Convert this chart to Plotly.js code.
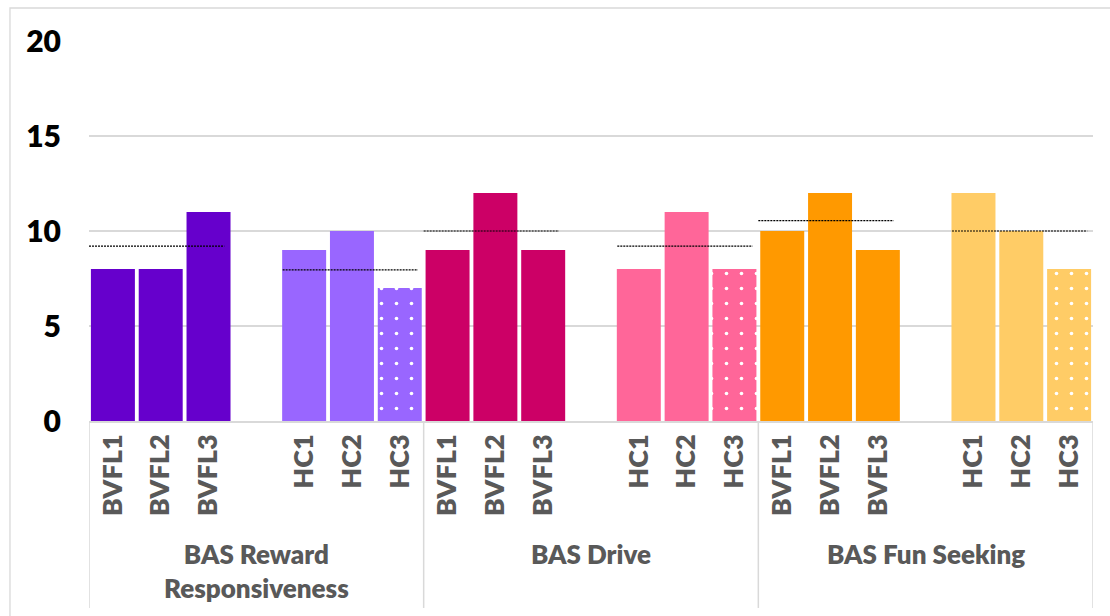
<!DOCTYPE html>
<html>
<head>
<meta charset="utf-8">
<script src="https://cdn.plot.ly/plotly-3.0.1.min.js"></script>
<style>
  html, body { margin: 0; padding: 0; background: #ffffff; }
  #chart { width: 1110px; height: 616px; }
</style>
</head>
<body>
<div id="chart"></div>
<script>
// BAS subscale scores per participant (BVFL patients vs healthy controls)
const groups = ['BAS Reward<br>Responsiveness', 'BAS Drive', 'BAS Fun Seeking'];
const subjects = ['BVFL1', 'BVFL2', 'BVFL3', '', 'HC1', 'HC2', 'HC3'];

const rewardScores = [8, 8, 11, null, 9, 10, 7];
const driveScores  = [9, 12, 9, null, 8, 11, 8];
const funScores    = [10, 12, 9, null, 12, 10, 8];

// Group means shown as dotted reference lines
const bvflMeans = [9.2, 10.0, 10.55];
const hcMeans   = [7.95, 9.2, 10.0];

const bvflColors = ['#6600CC', '#CC0066', '#FF9900'];
const hcColors   = ['#9966FF', '#FF6699', '#FFCC66'];

const scoreSets = [rewardScores, driveScores, funScores];
const slotsPerGroup = subjects.length;
const nSlots = groups.length * slotsPerGroup;

// Tick positions on the flattened numeric category axis
const tickVals = [], tickText = [];
for (let g = 0; g < groups.length; g++) {
  subjects.forEach((s, i) => { tickVals.push(g * slotsPerGroup + i); tickText.push(s); });
}

// One bar trace per subgroup (single colour each); HC3 gets a dotted fill
const traces = [];
scoreSets.forEach((scores, g) => {
  ['BVFL', 'HC'].forEach(kind => {
    const xs = [], ys = [], shapesArr = [];
    subjects.forEach((s, i) => {
      if (s.startsWith(kind)) {
        xs.push(g * slotsPerGroup + i);
        ys.push(scores[i]);
        shapesArr.push(s === 'HC3' ? '.' : '');
      }
    });
    const color = kind === 'HC' ? hcColors[g] : bvflColors[g];
    const marker = { color: color, line: { width: 0 } };
    if (kind === 'HC') {
      marker.pattern = {
        shape: shapesArr,
        fillmode: 'replace',
        bgcolor: color,
        fgcolor: '#ffffff',
        fgopacity: 1,
        size: 15,
        solidity: 0.045
      };
    }
    traces.push({ type: 'bar', x: xs, y: ys, marker: marker, showlegend: false });
  });
});

// Dotted mean lines, one segment per subgroup
const lineX = [], lineY = [];
groups.forEach((_, g) => {
  const bStart = g * slotsPerGroup;
  const hStart = g * slotsPerGroup + subjects.indexOf('HC1');
  lineX.push(bStart - 0.5, bStart + 2.33, null);
  lineY.push(bvflMeans[g], bvflMeans[g], null);
  lineX.push(hStart - 0.45, hStart + 2.38, null);
  lineY.push(hcMeans[g], hcMeans[g], null);
});

traces.push({
  type: 'scatter',
  mode: 'lines',
  x: lineX,
  y: lineY,
  line: { color: '#000000', width: 1.2, dash: '2px,1px' },
  showlegend: false,
  cliponaxis: false
});

const catColor = '#595959';
const gridColor = '#d9d9d9';
const fontFamily = 'Lato, sans-serif';

// Category dividers below the axis
const shapes = [];
for (let g = 0; g <= groups.length; g++) {
  shapes.push({
    type: 'line', xref: 'x', yref: 'paper',
    x0: g * slotsPerGroup - 0.5, x1: g * slotsPerGroup - 0.5,
    y0: 0, y1: -0.492,
    line: { color: gridColor, width: 1.5 }
  });
}
// chart frame
shapes.push({
  type: 'rect', xref: 'paper', yref: 'paper',
  x0: -0.0787, x1: 1.2, y0: -1, y1: 1.0868,
  line: { color: gridColor, width: 1.3 }, fillcolor: 'rgba(0,0,0,0)', layer: 'below'
});

// Group names under each block of bars
const annotations = groups.map((name, g) => ({
  xref: 'x', yref: 'paper',
  x: g * slotsPerGroup + (slotsPerGroup - 1) / 2,
  y: -0.302,
  yanchor: 'top', xanchor: 'center',
  text: name,
  showarrow: false,
  font: { family: fontFamily, size: 26, color: catColor, weight: 800 }
}));

const layout = {
  width: 1110,
  height: 616,
  margin: { l: 89, r: 17, t: 41, b: 195 },
  paper_bgcolor: '#ffffff',
  plot_bgcolor: '#ffffff',
  barmode: 'overlay',
  bargap: 0.08,
  showlegend: false,
  xaxis: {
    type: 'linear',
    range: [-0.5, nSlots - 0.5],
    tickvals: tickVals,
    ticktext: tickText,
    tickangle: -90,
    ticks: '',
    ticklabelstandoff: 1,
    showgrid: false,
    zeroline: false,
    showline: true,
    linecolor: gridColor,
    linewidth: 1.5,
    tickfont: { family: fontFamily, size: 27, color: catColor, weight: 800 },
    fixedrange: true
  },
  yaxis: {
    range: [0, 20],
    tickvals: [0, 5, 10, 15, 20],
    ticks: '',
    ticklabelstandoff: 27,
    showgrid: true,
    gridcolor: gridColor,
    gridwidth: 1.5,
    zeroline: false,
    showline: false,
    tickfont: { family: fontFamily, size: 30, color: '#000000', weight: 800 },
    fixedrange: true
  },
  shapes: shapes,
  annotations: annotations
};

Plotly.newPlot('chart', traces, layout, { staticPlot: true, displayModeBar: false });
</script>
</body>
</html>
